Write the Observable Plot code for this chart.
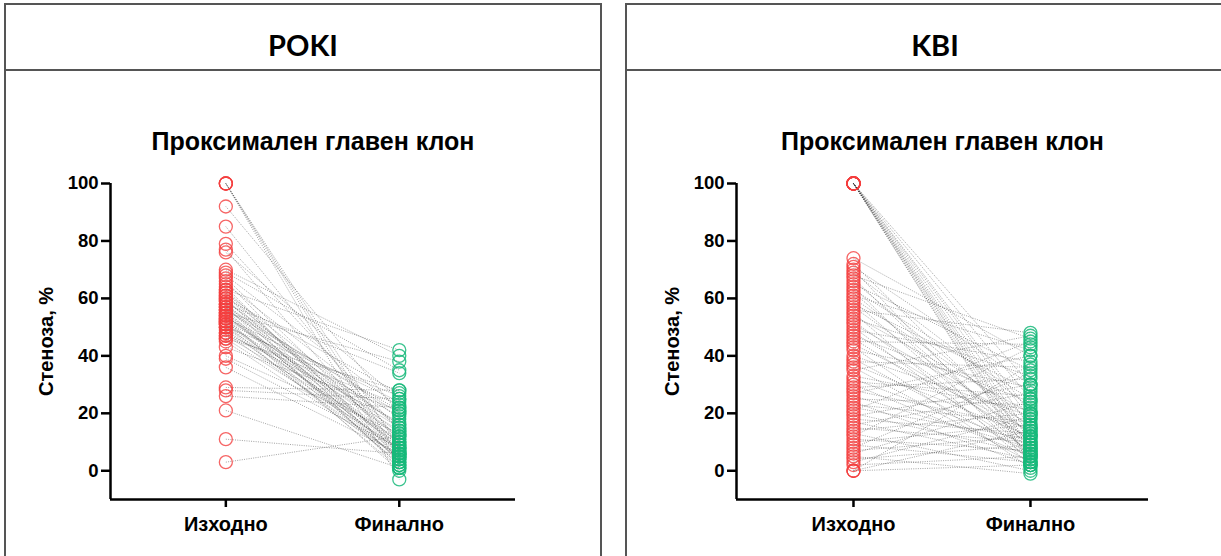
<!DOCTYPE html>
<html>
<head>
<meta charset="utf-8">
<script src="https://cdn.jsdelivr.net/npm/d3@7"></script>
<script src="https://cdn.jsdelivr.net/npm/@observablehq/plot@0.6"></script>
<style>
  html, body { margin: 0; padding: 0; background: #fff; }
  #root { position: relative; width: 1221px; height: 556px; overflow: hidden; }
  .panel { position: absolute; top: 3px; height: 600px; border: 2px solid #555; box-sizing: border-box; }
  .head { position: absolute; left: 0; right: 0; top: 0; height: 64px; border-bottom: 2px solid #555;
          box-sizing: content-box; padding-top: 0;
          display: flex; align-items: center; justify-content: center;
          font-family: Lato, "Open Sans", sans-serif; font-weight: bold; font-size: 29px; color: #000; }
  .head span { position: relative; top: 7px; }
  .chart { position: absolute; top: 100px; }
</style>
</head>
<body>
<div id="root">
  <div class="panel" style="left:4px; width:598px;"><div class="head"><span>POKI</span></div></div>
  <div class="panel" style="left:625px; width:620px;"><div class="head"><span>KBI</span></div></div>
  <div class="chart" id="c1" style="left:5px;"></div>
  <div class="chart" id="c2" style="left:626px;"></div>
</div>
<script>
const categories = ["Изходно", "Финално"];
const yTicks = [0, 20, 40, 60, 80, 100];
const subtitle = "Проксимален главен клон";
const yLabel = "Стеноза, %";

// POKI: paired values (initial -> final)
const pokiInitial = [100, 100, 100, 100, 92, 85, 79, 77, 76, 70, 69, 68, 67, 66, 65, 64, 63, 63, 62, 62, 61, 61, 60, 60, 59, 59, 58, 58, 58, 57, 57, 57, 56, 56, 56, 55, 55, 55, 54, 54, 54, 53, 53, 53, 52, 52, 52, 51, 51, 51, 50, 50, 50, 49, 48, 48, 47, 47, 46, 46, 45, 43, 40, 39, 36, 29, 28, 26, 21, 11, 3];
const pokiFinal   = [5, 2, 8, -3, 20, 10, 14, 6, 25, 40, 35, 22, 9, 4, 18, 3, 42, 6, 15, 7, 11, 3, 27, 1, 13, 16, 5, 34, 12, 20, 8, 2, 16, 2, 21, 10, 38, 4, 12, 6, 9, 24, 0, 15, 19, 4, 7, 14, 9, 1, 26, 3, 10, 7, 17, 5, 11, 23, 28, 8, 5, 21, 13, 8, 6, 28, 25, 22, 1, 6, 12];

// KBI: paired values (initial -> final)
const kbiInitial = [100, 100, 100, 100, 100, 100, 100, 100, 100, 100, 100, 100, 74, 72, 71, 70, 69, 68, 67, 66, 65, 64, 63, 62, 61, 60, 59, 58, 57, 56, 55, 54, 53, 52, 51, 50, 49, 48, 47, 46, 45, 44, 43, 42, 40, 39, 38, 37, 36, 35, 33, 32, 31, 30, 29, 28, 27, 26, 25, 24, 23, 22, 21, 20, 19, 18, 17, 16, 15, 14, 13, 12, 11, 10, 9, 8, 7, 6, 5, 4, 3, 2, 0, 0, 0];
const kbiFinal   = [5, 10, 15, 20, 3, 8, 25, 12, 30, 2, 18, 7, 40, 12, 30, 5, 22, 46, 8, 15, 35, 3, 25, 10, 42, 18, 6, 28, 13, 48, 2, 20, 33, 9, 16, 4, 38, 11, 24, 7, 44, 14, 1, 29, 19, 6, 36, 12, 3, 47, 21, 9, 26, 5, 32, 15, 40, 8, 23, 2, 17, 11, 45, 6, 30, 13, 4, 27, 10, 20, 0, 43, 7, 16, 3, 34, 12, 24, -1, 9, 19, 5, 14, 2, 37];

function drawPanel(initial, final, opts) {
  const pairs = initial.map((a, i) => ({a, b: final[i]}));
  const [x0, x1] = opts.xDomain;
  return Plot.plot({
    width: opts.width,
    height: 456,
    marginLeft: opts.marginLeft,
    marginRight: opts.marginRight,
    marginTop: 83,
    marginBottom: 57,
    style: {fontFamily: "'Liberation Sans', Arial, sans-serif", fontSize: "18px", fontWeight: "bold", color: "#000", background: "transparent", overflow: "visible"},
    x: {type: "linear", domain: [x0, x1], axis: null},
    y: {domain: [-10, 100], axis: null},
    marks: [
      Plot.link(pairs, {x1: () => 0, y1: "a", x2: () => 1, y2: "b", stroke: "#333", strokeOpacity: 0.5, strokeWidth: 0.9, strokeDasharray: "1,1.3"}),
      Plot.dot(initial, {x: () => 0, y: d => d, r: 6.5, stroke: "#f43f3f", strokeOpacity: 0.8, strokeWidth: 1.3, fill: "none"}),
      Plot.dot(final, {x: () => 1, y: d => d, r: 6.5, stroke: "#17b97a", strokeOpacity: 0.85, strokeWidth: 1.3, fill: "none"}),
      Plot.ruleX([x0], {y1: -10, y2: 100, stroke: "#000", strokeWidth: 2.5}),
      Plot.ruleY([-10], {x1: x0, x2: x1, stroke: "#000", strokeWidth: 2.5}),
      Plot.axisY({ticks: yTicks, tickSize: 9, tickPadding: 3, strokeWidth: 2.5, stroke: "#000", fill: "#000", fontSize: 18.5, fontWeight: "bold"}),
      Plot.axisX({ticks: [0, 1], tickFormat: i => categories[i], tickSize: 8, tickPadding: 9, strokeWidth: 2.5, stroke: "#000", fill: "#000", fontSize: 20, fontWeight: "bold"}),
      Plot.text([yLabel], {frameAnchor: "left", textAnchor: "middle", rotate: -90, dx: -64, fontSize: 20, fontWeight: "bold", fill: "#000"}),
      Plot.text([subtitle], {frameAnchor: "top", lineAnchor: "middle", dy: -42, fontSize: 25, fontWeight: "bold", fill: "#000"})
    ]
  });
}

document.getElementById("c1").appendChild(drawPanel(pokiInitial, pokiFinal, {
  width: 596, marginLeft: 105, marginRight: 86, xDomain: [-0.665, 1.67]
}));
document.getElementById("c2").appendChild(drawPanel(kbiInitial, kbiFinal, {
  width: 595, marginLeft: 110, marginRight: 73, xDomain: [-0.661, 1.667]
}));
</script>
</body>
</html>
